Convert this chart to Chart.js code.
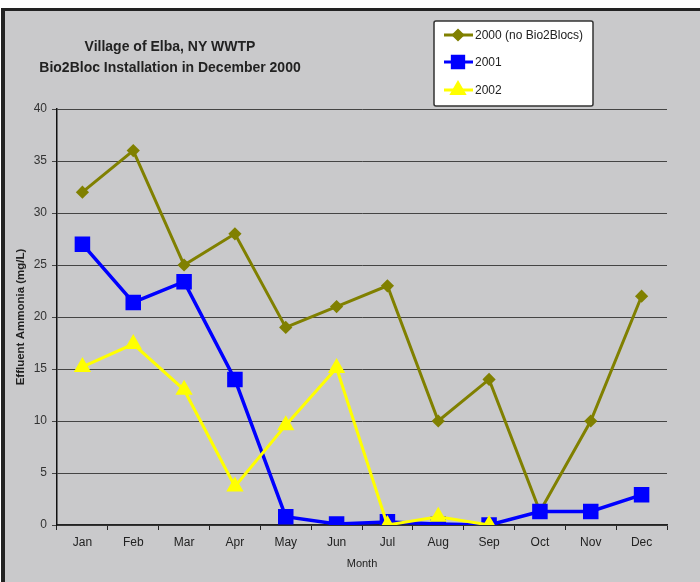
<!DOCTYPE html>
<html>
<head>
<meta charset="utf-8">
<script src="https://cdn.jsdelivr.net/npm/chart.js@4/dist/chart.umd.min.js"></script>
<style>
  html, body { margin: 0; padding: 0; background: #fff; }
  canvas { display: block; }
</style>
</head>
<body>
<canvas id="canvas" width="700" height="582"></canvas>
<script>
// données
const mois = ['Jan', 'Feb', 'Mar', 'Apr', 'May', 'Jun', 'Jul', 'Aug', 'Sep', 'Oct', 'Nov', 'Dec'];
const serie2000 = [32, 36, 25, 28, 19, 21, 23, 10, 14, 1.3, 10, 22];
const serie2001 = [27, 21.4, 23.4, 14, 0.8, 0.1, 0.3, 0.1, 0, 1.3, 1.3, 2.9];
const serie2002 = [15.2, 17.4, 13, 3.7, 9.6, 15.1, 0, 0.8, 0, null, null, null];
const ticksY = [0, 5, 10, 15, 20, 25, 30, 35, 40];

const titre = ['Village of Elba, NY WWTP', 'Bio2Bloc Installation in December 2000'];
const police = "'Liberation Sans', Arial, sans-serif";
const fond = '#c9c9cb';
const texte = '#222';

// fond gris + bordure sombre en haut et à gauche
const cadre = {
    id: 'cadre',
    beforeDraw(chart) {
        const ctx = chart.ctx;
        ctx.save();
        ctx.fillStyle = '#fff';
        ctx.fillRect(0, 0, chart.width, chart.height);
        ctx.fillStyle = fond;
        ctx.fillRect(1, 8, chart.width, chart.height);
        ctx.fillStyle = '#222';
        ctx.fillRect(1, 8, chart.width, 3);
        ctx.fillRect(1, 8, 4, chart.height);
        ctx.restore();
    }
};

// titre et légende dessinés à la main (positions libres comme dans Excel)
const habillage = {
    id: 'habillage',
    afterDraw(chart) {
        const ctx = chart.ctx;
        ctx.save();
        ctx.fillStyle = texte;
        ctx.font = 'bold 14px ' + police;
        ctx.textAlign = 'center';
        ctx.textBaseline = 'middle';
        ctx.fillText(titre[0], 170, 47);
        ctx.fillText(titre[1], 170, 68);

        // boîte de légende
        ctx.fillStyle = '#fff';
        ctx.strokeStyle = '#333';
        ctx.lineWidth = 1.5;
        ctx.beginPath();
        ctx.roundRect(434, 21, 159, 85, 2);
        ctx.fill();
        ctx.stroke();

        const lignes = [35, 62, 90];
        chart.data.datasets.forEach((ds, i) => {
            const y = lignes[i];
            ctx.strokeStyle = ds.borderColor;
            ctx.lineWidth = 3;
            ctx.beginPath();
            ctx.moveTo(444, y);
            ctx.lineTo(473, y);
            ctx.stroke();
            ctx.fillStyle = ds.backgroundColor;
            Chart.helpers.drawPoint(ctx, {
                pointStyle: ds.pointStyle,
                radius: ds.legendRadius,
                borderWidth: 1,
                rotation: 0
            }, 458, y);
            ctx.fill();
            ctx.fillStyle = texte;
            ctx.font = '12px ' + police;
            ctx.textAlign = 'left';
            ctx.fillText(ds.label, 475, y + 1);
        });
        ctx.restore();
    }
};

new Chart(document.getElementById('canvas'), {
    type: 'line',
    data: {
        labels: mois,
        datasets: [
            {
                label: '2000 (no Bio2Blocs)',
                data: serie2000,
                borderColor: '#808000',
                backgroundColor: '#808000',
                borderWidth: 3,
                pointStyle: 'rectRot',
                pointRadius: 4.5,
                legendRadius: 4.5,
                order: 3
            },
            {
                label: '2001',
                data: serie2001,
                borderColor: '#0000ff',
                backgroundColor: '#0000ff',
                borderWidth: 3.5,
                pointStyle: 'rect',
                pointRadius: 8.5,
                legendRadius: 8,
                order: 2
            },
            {
                label: '2002',
                data: serie2002,
                borderColor: '#ffff00',
                backgroundColor: '#ffff00',
                borderWidth: 3,
                pointStyle: 'triangle',
                pointRadius: 7,
                legendRadius: 7,
                order: 1
            }
        ]
    },
    options: {
        responsive: false,
        animation: false,
        devicePixelRatio: 1,
        layout: { padding: { top: 109, right: 33, left: 0, bottom: 0 } },
        elements: {
            line: { tension: 0 },
            point: { borderWidth: 1, hoverRadius: 9 }
        },
        plugins: {
            legend: { display: false },
            title: { display: false },
            tooltip: { enabled: false }
        },
        scales: {
            x: {
                offset: true,
                afterFit(scale) { scale.height = 57; },
                grid: { drawOnChartArea: false, drawTicks: true, tickLength: 5, offset: true, color: '#222' },
                border: { color: '#222', width: 1.5 },
                ticks: { color: texte, padding: 5, font: { family: police, size: 12 } },
                title: {
                    display: true,
                    text: 'Month',
                    color: texte,
                    padding: { top: 0, bottom: 11 },
                    font: { family: police, size: 11 }
                }
            },
            y: {
                min: 0,
                max: 40,
                afterFit(scale) { scale.width = 57; },
                afterBuildTicks(scale) { scale.ticks = ticksY.map(v => ({ value: v })); },
                grid: { color: '#444', lineWidth: 1, tickLength: 5 },
                border: { color: '#111', width: 1.5 },
                ticks: { color: '#333', padding: 5, font: { family: police, size: 12 } },
                title: {
                    display: true,
                    text: 'Effluent Ammonia (mg/L)',
                    color: texte,
                    padding: { top: 14, bottom: 0 },
                    font: { family: police, size: 11.5, weight: 'bold' }
                }
            }
        }
    },
    plugins: [cadre, habillage]
});
</script>
</body>
</html>
